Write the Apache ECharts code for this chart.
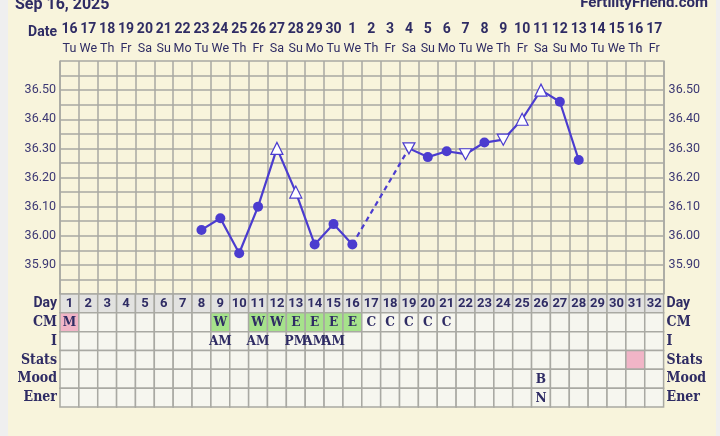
<!DOCTYPE html>
<html>
<head>
<meta charset="utf-8">
<script src="https://cdn.jsdelivr.net/npm/echarts@6/dist/echarts.min.js"></script>
<style>
  html, body { margin: 0; padding: 0; background: #efefef; }
  #chart {
    width: 720px; height: 436px;
    background: linear-gradient(to right, #efefef 0 8px, #f8f4dc 8px 716px, #efefef 716px);
  }
</style>
</head>
<body>
<div id="chart"></div>
<script>
// Cycle calendar
const cycleDays = ['1','2','3','4','5','6','7','8','9','10','11','12','13','14','15','16',
                   '17','18','19','20','21','22','23','24','25','26','27','28','29','30','31','32'];
const dateLabels = ['16','17','18','19','20','21','22','23','24','25','26','27','28','29','30','1',
                    '2','3','4','5','6','7','8','9','10','11','12','13','14','15','16','17'];
const weekdayLabels = ['Tu','We','Th','Fr','Sa','Su','Mo','Tu','We','Th','Fr','Sa','Su','Mo','Tu','We',
                       'Th','Fr','Sa','Su','Mo','Tu','We','Th','Fr','Sa','Su','Mo','Tu','We','Th','Fr'];

// Basal body temperature (°C) per cycle day, null = not recorded
const temps = [null, null, null, null, null, null, null, 36.02, 36.06, 35.94, 36.10, 36.30, 36.15, 35.97, 36.04, 35.97,
               null, null, 36.30, 36.27, 36.29, 36.28, 36.32, 36.33, 36.40, 36.50, 36.46, 36.26, null, null, null, null];
// Marker kind per day: c = normal, t = up triangle, v = down triangle
const markerKinds = ['c','c','c','c','c','c','c','c','c','c','c','t','t','c','c','c',
                     'c','c','v','c','c','v','c','v','t','t','c','c','c','c','c','c'];

// Observation rows
const rowNames = ['Day', 'CM', 'I', 'Stats', 'Mood', 'Ener'];
const cmCodes = ['M','','','','','','','','W','','W','W','E','E','E','E',
                 'C','C','C','C','C','','','','','','','','','','',''];
const intercourse = ['','','','','','','','','AM','','AM','','PM','AM','AM','',
                     '','','','','','','','','','','','','','','',''];
const statsMarks = ['','','','','','','','','','','','','','','','',
                    '','','','','','','','','','','','','','','x',''];
const moodCodes = ['','','','','','','','','','','','','','','','',
                   '','','','','','','','','','B','','','','','',''];
const energyCodes = ['','','','','','','','','','','','','','','','',
                     '','','','','','','','','','N','','','','','',''];

const INK = '#2f2c64';
const LINE = '#4b3ccf';
const GRID = '#a9a9a3';
const SANS = 'Roboto, "Noto Sans", sans-serif';
const SLAB = '"DejaVu Serif Condensed", "DejaVu Serif", serif';

const symbolFor = {
  c: 'circle',
  t: 'triangle',
  v: 'path://M0,0 L10,0 L5,9 Z'
};

const tempData = temps.map((t, i) => {
  if (t === null) return null;
  const k = markerKinds[i];
  if (k === 'c') {
    return { value: t, symbol: 'circle', symbolSize: 10, itemStyle: { color: LINE } };
  }
  return {
    value: t, symbol: symbolFor[k], symbolSize: k === 'v' ? [12, 11] : 12,
    itemStyle: { color: '#ffffff', borderColor: LINE, borderWidth: 1.2 }
  };
});

// Dashed bridge across the unrecorded days 17-18
const bridgeData = temps.map((t, i) => (i === 15 || i === 18) ? t : null);

function cmFill(code) {
  if (code === 'M') return '#f1b5c7';
  if (code === 'W' || code === 'E') return '#a6e28b';
  return null;
}

function cellFill(r, c) {
  if (r === 0) return '#e2e2e0';
  if (r === 1 && cmFill(cmCodes[c])) return cmFill(cmCodes[c]);
  if (r === 3 && statsMarks[c]) return '#f1b5c7';
  return '#f6f6ef';
}

function cellText(r, c) {
  if (r === 0) return cycleDays[c];
  if (r === 1) return cmCodes[c];
  if (r === 2) return intercourse[c];
  if (r === 4) return moodCodes[c];
  if (r === 5) return energyCodes[c];
  return '';
}

const cells = [];
for (let r = 0; r < rowNames.length; r++) {
  for (let c = 0; c < cycleDays.length; c++) cells.push([c, r]);
}

const chart = echarts.init(document.getElementById('chart'), null, { renderer: 'canvas' });

const yLabel = v => {
  const k = Math.round(v * 100);
  return (k % 10 === 0 && k > 3580 && k < 3660) ? (k / 100).toFixed(2) : '';
};

const rowLabel = (v) => v === 'Day' ? '{s|' + v + '}' : '{r|' + v + '}';
const rowRich = {
  s: { fontFamily: SANS, fontWeight: 'bold', fontSize: 14, color: INK },
  r: { fontFamily: SLAB, fontWeight: 'bold', fontSize: 14, color: INK }
};

chart.setOption({
  backgroundColor: 'transparent',
  animation: false,
  grid: [
    { left: 60, top: 61, width: 603.6, height: 233 },
    { left: 60, top: 294, width: 603.6, height: 113 }
  ],
  xAxis: [
    {
      type: 'category', gridIndex: 0, position: 'top', data: cycleDays,
      axisLine: { show: false }, axisTick: { show: false },
      splitLine: { show: true, interval: 0, lineStyle: { color: GRID, width: 1.5 } },
      axisLabel: {
        interval: 0, margin: 3,
        formatter: (v, i) => '{d|' + dateLabels[i] + '}\n{w|' + weekdayLabels[i] + '}',
        rich: {
          d: { fontFamily: SANS, fontWeight: 'bold', fontSize: 14, color: INK, lineHeight: 19 },
          w: { fontFamily: SANS, fontSize: 12.5, color: INK, lineHeight: 19 }
        }
      }
    },
    {
      type: 'category', gridIndex: 1, data: cycleDays, show: false
    }
  ],
  yAxis: [
    {
      type: 'value', gridIndex: 0, position: 'left', min: 35.8, max: 36.6, interval: 0.05,
      axisLine: { show: true, lineStyle: { color: GRID, width: 1.5 } }, axisTick: { show: false },
      splitLine: { show: true, lineStyle: { color: GRID, width: 1.5 } },
      axisLabel: { formatter: yLabel, margin: 4, fontFamily: SANS, fontSize: 12.5, color: '#3b3773' }
    },
    {
      type: 'value', gridIndex: 0, position: 'right', min: 35.8, max: 36.6, interval: 0.05,
      axisLine: { show: true, lineStyle: { color: GRID, width: 1.5 } }, axisTick: { show: false },
      splitLine: { show: false },
      axisLabel: { formatter: yLabel, margin: 5, fontFamily: SANS, fontSize: 12.5, color: '#3b3773' }
    },
    {
      type: 'category', gridIndex: 1, position: 'left', data: rowNames, inverse: true,
      axisLine: { show: false }, axisTick: { show: false }, splitLine: { show: false },
      axisLabel: { margin: 3, formatter: rowLabel, rich: rowRich }
    },
    {
      type: 'category', gridIndex: 1, position: 'right', data: rowNames, inverse: true,
      axisLine: { show: false }, axisTick: { show: false }, splitLine: { show: false },
      axisLabel: { margin: 3, formatter: rowLabel, rich: rowRich }
    }
  ],
  graphic: [
    { type: 'text', left: 15, top: -3,
      style: { text: 'Sep 16, 2025', font: 'bold 16px ' + SANS, fill: INK } },
    { type: 'text', right: 12, top: -4,
      style: { text: 'FertilityFriend.com', font: 'bold 15px ' + SANS, fill: INK } },
    { type: 'text', right: 663, top: 25,
      style: { text: 'Date', font: 'bold 14px ' + SANS, fill: INK } }
  ],
  series: [
    {
      type: 'line', xAxisIndex: 0, yAxisIndex: 0, data: bridgeData, connectNulls: true,
      showSymbol: false, silent: true, z: 3,
      lineStyle: { color: LINE, width: 2.2, type: [5, 4] }
    },
    {
      type: 'line', xAxisIndex: 0, yAxisIndex: 0, data: tempData, connectNulls: false,
      showSymbol: true, showAllSymbol: true, z: 4,
      lineStyle: { color: LINE, width: 2.2 }, itemStyle: { color: LINE }
    },
    {
      type: 'custom', xAxisIndex: 1, yAxisIndex: 2, data: cells, silent: true, z: 2,
      renderItem: (params, api) => {
        const c = api.value(0), r = api.value(1);
        const p = api.coord([c, r]);
        const s = api.size([1, 1]);
        return {
          type: 'rect',
          shape: { x: p[0] - s[0] / 2, y: p[1] - s[1] / 2, width: s[0], height: s[1] },
          style: { fill: cellFill(r, c), stroke: GRID, lineWidth: 1.5 }
        };
      }
    },
    {
      type: 'custom', xAxisIndex: 1, yAxisIndex: 2, data: cells, silent: true, z: 3,
      renderItem: (params, api) => {
        const c = api.value(0), r = api.value(1);
        const txt = cellText(r, c);
        if (!txt) return null;
        const p = api.coord([c, r]);
        return {
          type: 'text',
          style: {
            x: p[0], y: p[1] + 0.5, text: txt, align: 'center', verticalAlign: 'middle',
            font: r === 0 ? 'bold 13px ' + SANS : 'bold 13.5px ' + SLAB,
            fill: INK
          }
        };
      }
    }
  ]
});
</script>
</body>
</html>
